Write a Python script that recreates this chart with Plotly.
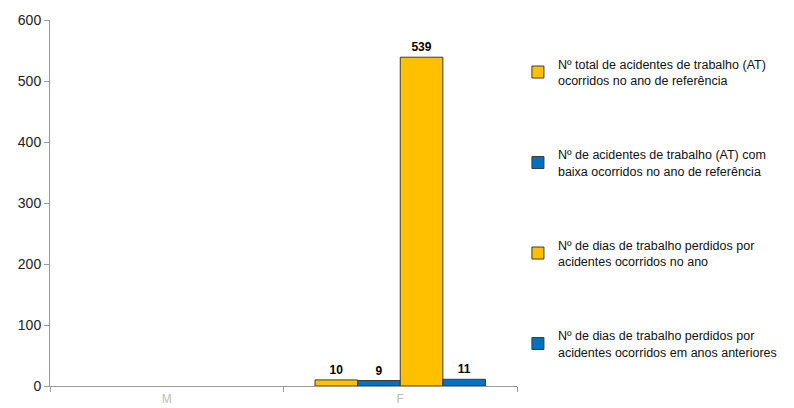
import plotly.graph_objects as go

categories = ["M", "F"]
series_names = [
    "Nº total de acidentes de trabalho (AT)<br>ocorridos no ano de referência",
    "Nº de acidentes de trabalho (AT) com<br>baixa ocorridos no ano de referência",
    "Nº de dias de trabalho perdidos por<br>acidentes ocorridos no ano",
    "Nº de dias de trabalho perdidos por<br>acidentes ocorridos em anos anteriores",
]
total_at = [None, 10]
at_com_baixa = [None, 9]
dias_perdidos_ano = [None, 539]
dias_perdidos_anteriores = [None, 11]
colors = ["#FFC000", "#0070C0", "#FFC000", "#0070C0"]

values = [total_at, at_com_baixa, dias_perdidos_ano, dias_perdidos_anteriores]

fig = go.Figure()
for i, (name, vals, col) in enumerate(zip(series_names, values, colors)):
    fig.add_trace(go.Bar(
        x=categories, y=vals, name=name,
        marker=dict(color=col, line=dict(color="#3a3a3a", width=1)),
        text=[("<b>%d</b>" % v) if v is not None else "" for v in vals],
        textposition="outside",
        textfont=dict(family="Liberation Sans, Arial", size=12, color="#000000"),
        cliponaxis=False,
        legendgroup="g%d" % i,
    ))

fig.update_layout(
    width=794, height=408,
    margin=dict(l=42, r=285, t=12, b=30),
    paper_bgcolor="white", plot_bgcolor="white",
    barmode="group", bargap=0.27, bargroupgap=0,
    font=dict(family="Liberation Sans, Arial", size=12, color="#222222"),
    showlegend=True,
    legend=dict(
        x=1.002, xanchor="left", y=0.92, yanchor="top",
        tracegroupgap=55, traceorder="grouped",
        font=dict(family="Liberation Sans, Arial", size=12.5, color="#111111"),
        itemwidth=30,
    ),
    xaxis=dict(
        showline=True, linecolor="#999999", linewidth=1,
        ticks="outside", tickson="boundaries", ticklen=5, tickcolor="#999999",
        tickfont=dict(color="#bbbbbb", size=12), ticklabelstandoff=2,
        showgrid=False, automargin=False,
    ),
    yaxis=dict(
        range=[0, 600], dtick=100,
        showline=True, linecolor="#999999", linewidth=1,
        ticks="outside", ticklen=5, tickcolor="#999999",
        tickfont=dict(color="#222222", size=14),
        showgrid=False, zeroline=False, automargin=False,
    ),
)

fig.write_html("out.html")
